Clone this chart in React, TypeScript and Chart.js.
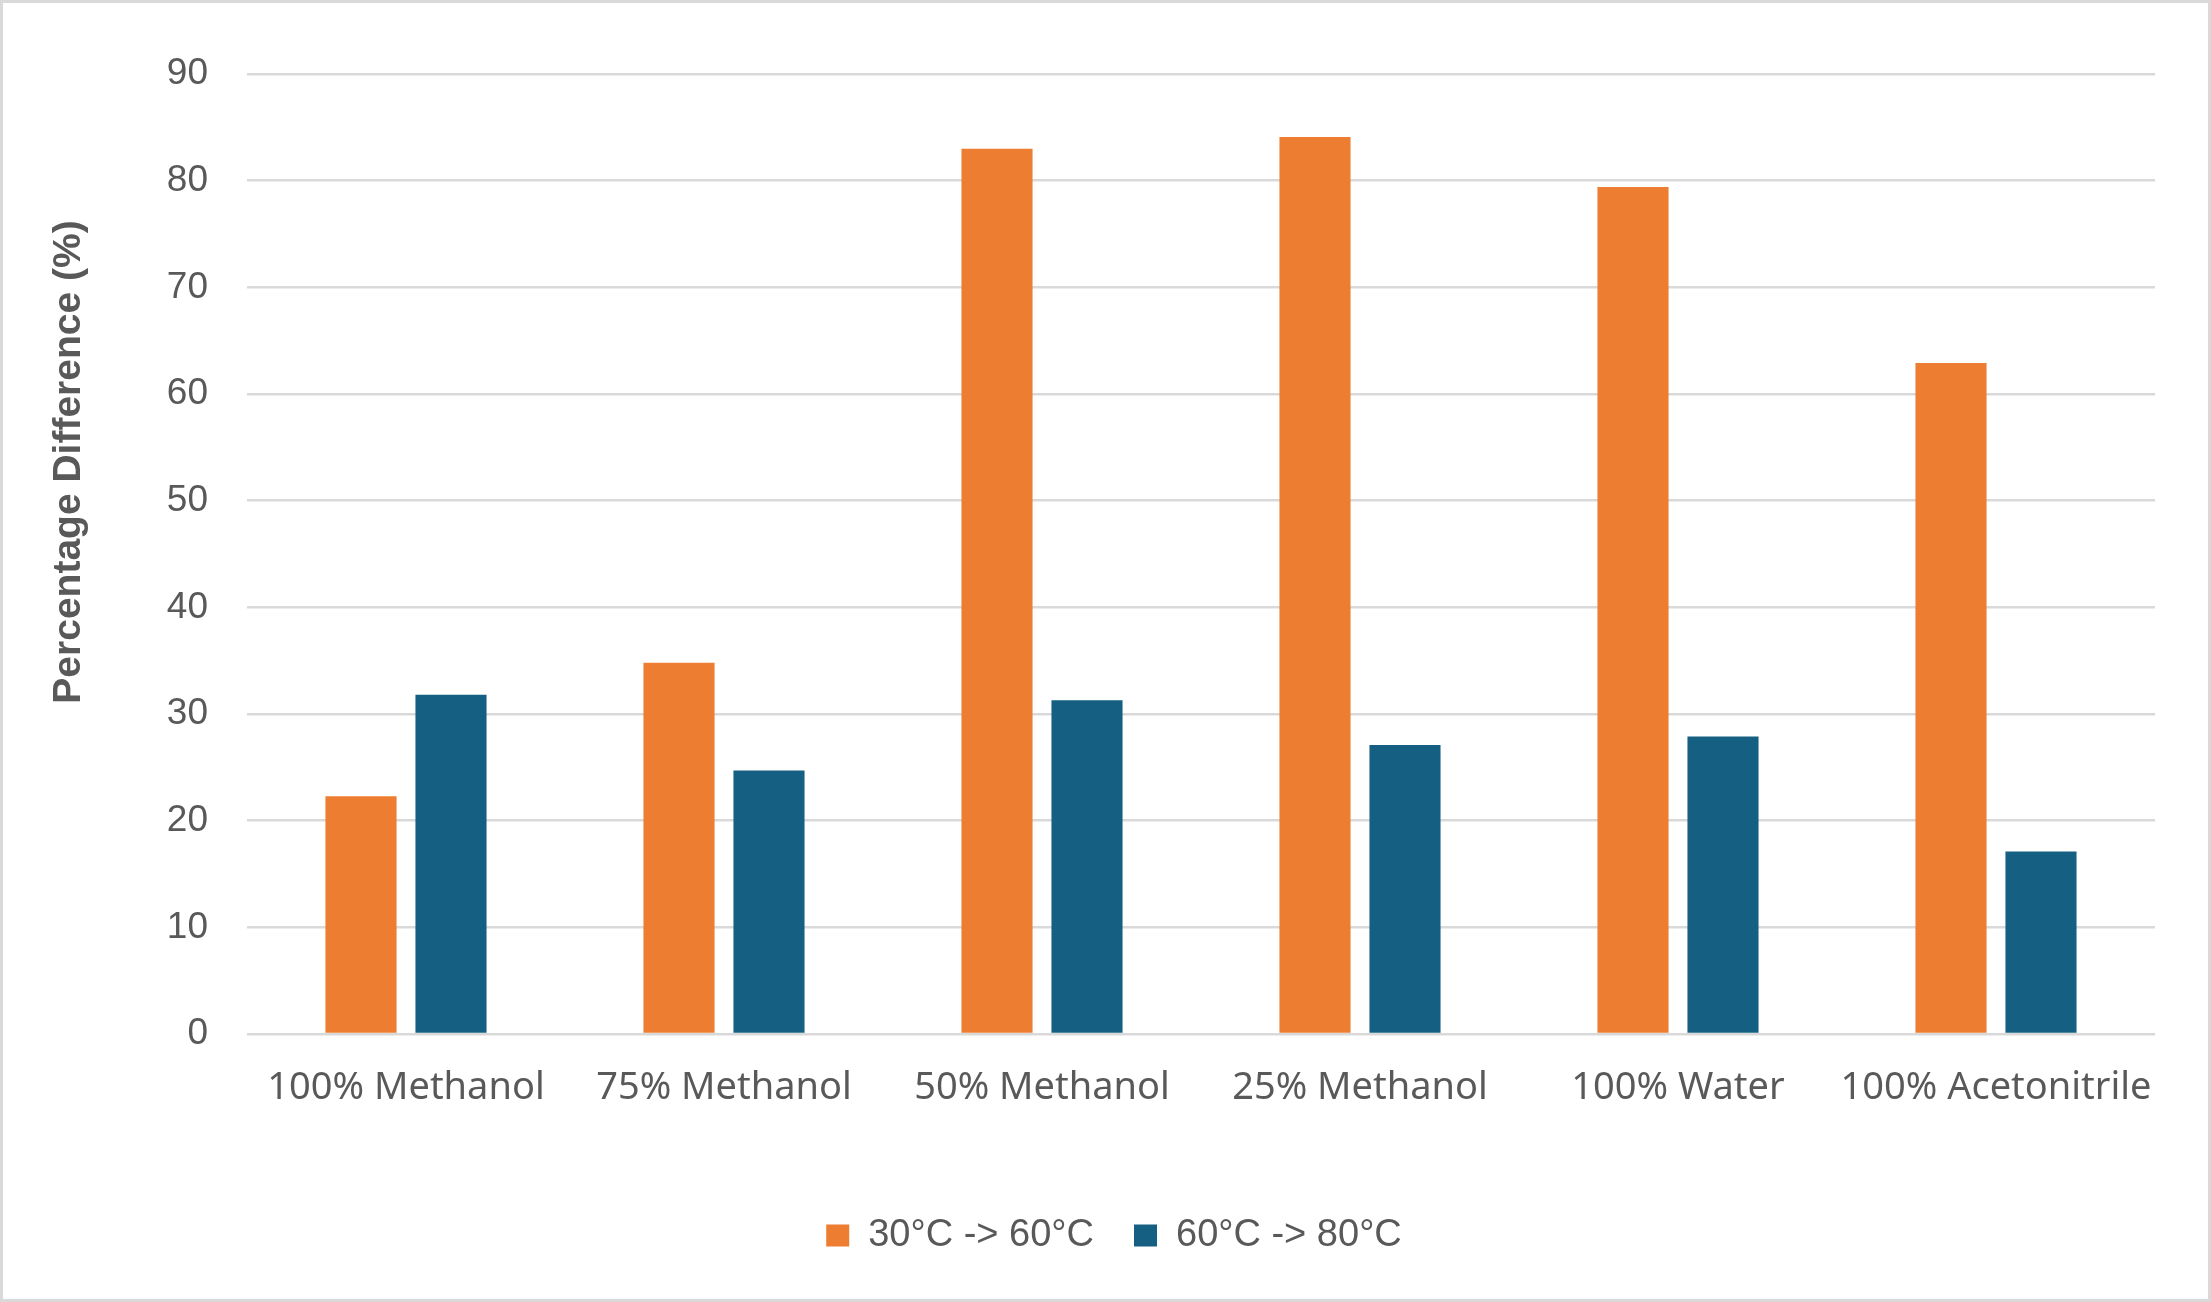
import React, { useEffect, useRef } from "react";
import { Chart, registerables } from "chart.js";

Chart.register(...registerables);

const categories = [
  "100% Methanol",
  "75% Methanol",
  "50% Methanol",
  "25% Methanol",
  "100% Water",
  "100% Acetonitrile",
];
const seriesNames = ["30°C -> 60°C", "60°C -> 80°C"];
const series30to60 = [22.3, 34.8, 83.0, 84.1, 79.4, 62.9];
const series60to80 = [31.8, 24.7, 31.3, 27.1, 27.9, 17.1];
const yMin = 0;
const yMax = 90;
const yStep = 10;
const yTitle = "Percentage Difference (%)";

const TEXT = "#595959";
const GRID = "#d9d9d9";
const ORANGE = "#ED7D31";
const BLUE = "#156082";

const yTitlePlugin = {
  id: "yTitleCustom",
  afterDraw(chart: any, _args: any, opts: any) {
    const ctx = chart.ctx;
    ctx.save();
    ctx.translate(opts.x, opts.y);
    ctx.rotate(-Math.PI / 2);
    ctx.font = opts.font;
    ctx.fillStyle = opts.color;
    ctx.textAlign = "center";
    ctx.textBaseline = "middle";
    ctx.fillText(opts.text, 0, 0);
    ctx.restore();
  },
};

export default function App() {
  const ref = useRef<HTMLCanvasElement>(null);

  useEffect(() => {
    document.body.style.margin = "0";
    const canvas = ref.current;
    if (!canvas) return;
    const chart = new Chart(canvas, {
      type: "bar",
      data: {
        labels: categories,
        datasets: [
          {
            label: seriesNames[0],
            data: series30to60,
            backgroundColor: ORANGE,
            borderWidth: 0,
            categoryPercentage: 0.566,
            barPercentage: 0.79,
          },
          {
            label: seriesNames[1],
            data: series60to80,
            backgroundColor: BLUE,
            borderWidth: 0,
            categoryPercentage: 0.566,
            barPercentage: 0.79,
          },
        ],
      },
      plugins: [yTitlePlugin],
      options: {
        responsive: false,
        animation: false,
        devicePixelRatio: 1,
        layout: { padding: { top: 71, right: 53, bottom: 34.5, left: 70 } },
        scales: {
          x: {
            grid: { display: false },
            border: { display: false },
            ticks: {
              color: TEXT,
              font: { family: "'Noto Sans'", size: 38 },
              padding: 23,
              maxRotation: 0,
              autoSkip: false,
            },
            afterFit(scale: any) {
              scale.height = 142.5;
            },
          },
          y: {
            min: yMin,
            max: yMax,
            grid: { color: GRID, lineWidth: 2.5, drawTicks: false },
            border: { display: false },
            ticks: {
              stepSize: yStep,
              color: TEXT,
              font: { family: "'Liberation Sans'", size: 37 },
              padding: 39,
            },
            afterFit(scale: any) {
              scale.width = 174;
            },
          },
        },
        plugins: {
          legend: {
            position: "bottom",
            labels: {
              boxWidth: 23,
              boxHeight: 22,
              color: TEXT,
              font: { family: "'Liberation Sans'", size: 38 },
              padding: 40,
            },
          },
          tooltip: { enabled: false },
          yTitleCustom: {
            text: yTitle,
            x: 66,
            y: 459,
            font: "bold 39px 'Liberation Sans'",
            color: TEXT,
          },
        } as any,
      },
    });
    return () => chart.destroy();
  }, []);

  return (
    <div
      style={{
        width: 2211,
        height: 1302,
        boxSizing: "border-box",
        border: `3px solid ${GRID}`,
        background: "#ffffff",
        overflow: "hidden",
      }}
    >
      <canvas ref={ref} width={2205} height={1296} style={{ display: "block", width: 2205, height: 1296 }} />
    </div>
  );
}
